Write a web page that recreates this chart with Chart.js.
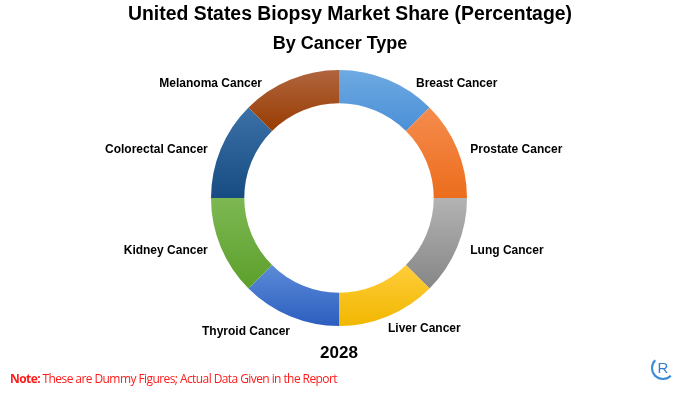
<!DOCTYPE html>
<html>
<head>
<meta charset="utf-8">
<script src="https://cdn.jsdelivr.net/npm/chart.js@4.4.1/dist/chart.umd.min.js"></script>
<style>
  html, body { margin: 0; padding: 0; background: #fff; }
  #wrap { position: relative; width: 700px; height: 393px; overflow: hidden; }
  #chart { position: absolute; left: 0; top: 0; }
  .txt { position: absolute; left: 0; width: 700px; text-align: center; font-family: "Liberation Sans", Arial, sans-serif; font-weight: bold; color: #000; }
  #note { position: absolute; left: 10px; top: 370px; font-family: "Open Sans", sans-serif; font-size: 12px; color: #ff1a1a; letter-spacing: -0.58px; }
  #note b { font-weight: bold; }
  #logo { position: absolute; left: 651px; top: 356px; width: 20px; height: 20px; border-radius: 50%; border: 2px solid #3a8ad8; border-top-color: transparent; border-right-color: transparent; font-family: "Liberation Sans", sans-serif; font-size: 15px; color: #2f7fd0; text-align: center; line-height: 20px; }
</style>
</head>
<body>
<div id="wrap">
  <canvas id="chart" width="700" height="393"></canvas>
  <div class="txt" style="top:2px;font-size:19.4px;">United States Biopsy Market Share (Percentage)</div>
  <div class="txt" style="top:33px;font-size:18px;left:-10px;">By Cancer Type</div>
  <div class="txt" style="top:343px;font-size:17px;left:-11px;">2028</div>
  <div id="note"><b>Note:</b> These are Dummy Figures; Actual Data Given in the Report</div>
  <div id="logo">R</div>
</div>
<script>
// data
var categories = ['Breast Cancer', 'Prostate Cancer', 'Lung Cancer', 'Liver Cancer',
  'Thyroid Cancer', 'Kidney Cancer', 'Colorectal Cancer', 'Melanoma Cancer'];
var shares = [12.5, 12.5, 12.5, 12.5, 12.5, 12.5, 12.5, 12.5];
var topColors = ['#6eaae2', '#f58c4e', '#b3b3b3', '#ffcd3a', '#5c8bd8', '#7db853', '#3c71a8', '#b0653e'];
var bottomColors = ['#4a8fd6', '#ec6d1c', '#868686', '#f1b700', '#2c5ebf', '#5c9f2b', '#174c82', '#983c02'];

// y range of one ring slice, for its own top-to-bottom gradient
function sliceYRange(cy, r0, r1, a0, a1) {
  var ys = [];
  [a0, a1].forEach(function(a) {
    ys.push(cy + r0 * Math.sin(a), cy + r1 * Math.sin(a));
  });
  [-Math.PI / 2, Math.PI / 2, 3 * Math.PI / 2].forEach(function(a) {
    if (a > a0 && a < a1) ys.push(cy + r1 * Math.sin(a));
  });
  return [Math.min.apply(null, ys), Math.max.apply(null, ys)];
}

function sliceFill(context) {
  var chart = context.chart;
  var area = chart.chartArea;
  if (!area) return topColors[context.dataIndex];
  var cy = (area.top + area.bottom) / 2;
  var r1 = Math.min(area.right - area.left, area.bottom - area.top) / 2;
  var r0 = r1 * 0.74;
  var total = shares.reduce(function(s, v) { return s + v; }, 0);
  var start = -Math.PI / 2;
  for (var i = 0; i < context.dataIndex; i++) start += shares[i] / total * 2 * Math.PI;
  var end = start + shares[context.dataIndex] / total * 2 * Math.PI;
  var yr = sliceYRange(cy, r0, r1, start, end);
  var g = chart.ctx.createLinearGradient(0, yr[0], 0, yr[1]);
  g.addColorStop(0, topColors[context.dataIndex]);
  g.addColorStop(1, bottomColors[context.dataIndex]);
  return g;
}

var outsideLabels = {
  id: 'outsideLabels',
  afterDatasetsDraw: function(chart) {
    var ctx = chart.ctx;
    var meta = chart.getDatasetMeta(0);
    ctx.save();
    ctx.font = 'bold 12px "Liberation Sans", Arial, sans-serif';
    ctx.fillStyle = '#000';
    ctx.textBaseline = 'middle';
    meta.data.forEach(function(arc, i) {
      var mid = (arc.startAngle + arc.endAngle) / 2;
      var c = Math.cos(mid), s = Math.sin(mid);
      var px = arc.x + arc.outerRadius * c;
      var py = arc.y + arc.outerRadius * s;
      var dx, dy;
      if (s < -0.7) { dx = 28; dy = 4; }
      else if (s > 0.7) { dx = 0; dy = c >= 0 ? 12 : 15; }
      else { dx = 13; dy = s > 0 ? 4 : 1; }
      ctx.textAlign = c >= 0 ? 'left' : 'right';
      ctx.fillText(categories[i], px + (c >= 0 ? dx : -dx), py + dy);
    });
    ctx.restore();
  }
};

new Chart(document.getElementById('chart'), {
  type: 'doughnut',
  data: {
    labels: categories,
    datasets: [{
      data: shares,
      backgroundColor: sliceFill,
      borderWidth: 0
    }]
  },
  options: {
    responsive: false,
    animation: false,
    cutout: '74%',
    layout: { padding: { left: 211, right: 233, top: 70, bottom: 67 } },
    plugins: {
      legend: { display: false },
      title: { display: false },
      tooltip: { enabled: false }
    }
  },
  plugins: [outsideLabels]
});
</script>
</body>
</html>
